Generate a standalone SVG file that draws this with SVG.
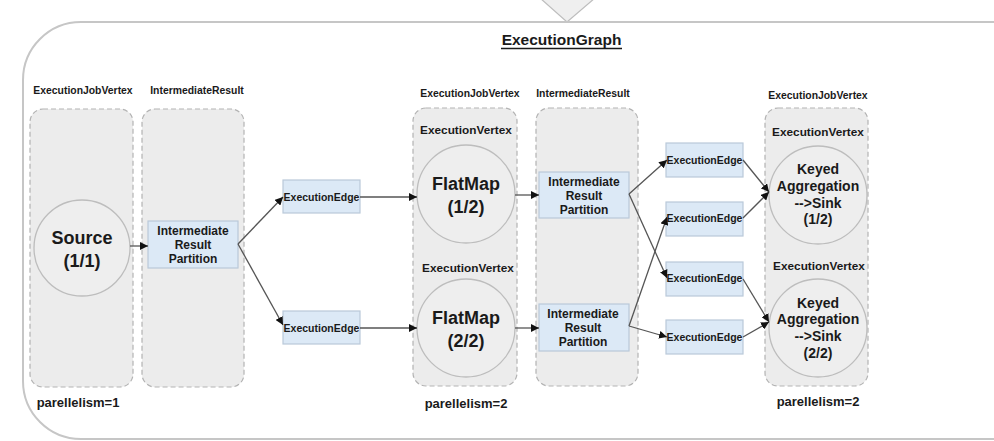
<svg xmlns="http://www.w3.org/2000/svg" width="994" height="441" viewBox="0 0 994 441">
<defs>
<marker id="ah" viewBox="0 0 10 10" refX="10" refY="5" markerWidth="8" markerHeight="8" markerUnits="userSpaceOnUse" orient="auto">
<path d="M0,0 L10,5 L0,10 Z" fill="#111"/>
</marker>
<style>
text{font-family:"Liberation Sans",Arial,sans-serif;font-weight:bold;fill:#1a1a1a;text-anchor:middle}
.col{fill:#ececec;stroke:#b3b3b3;stroke-width:1.2;stroke-dasharray:5 3}
.circ{fill:#eeeeee;stroke:#bdbdbd;stroke-width:1.3}
.box{fill:#dce9f6;stroke:#b9c9d9;stroke-width:1.2}
.lbl{font-size:10.4px}
.ev{font-size:11.8px}
.edge{font-size:10.5px}
.irp{font-size:12px}
.big{font-size:18px}
.keyed{font-size:14px}
.par{font-size:13px}
.conn path,.conn line{stroke:#555;stroke-width:1.3;fill:none;marker-end:url(#ah)}
</style>
</defs>
<rect width="994" height="441" fill="#ffffff"/>
<polygon points="540,-2 595,-2 567,22" fill="#efefef" stroke="#bdbdbd" stroke-width="1.2"/>
<path d="M1000,22 H81 A58,58 0 0 0 23,80 V381 A58,58 0 0 0 81,439 H1000" fill="none" stroke="#c6c6c6" stroke-width="2"/>
<g id="title">
<text x="561.5" y="45" style="font-size:15.5px">ExecutionGraph</text>
<line x1="501" y1="48.5" x2="622" y2="48.5" stroke="#1a1a1a" stroke-width="1.3"/>
</g>
<g id="col-source">
<text class="lbl" x="83" y="93.5">ExecutionJobVertex</text>
<rect class="col" x="30" y="109" width="103" height="278" rx="13"/>
<text class="par" x="78" y="407">parellelism=1</text>
</g>
<g id="col-ir1">
<text class="lbl" x="197" y="93.5">IntermediateResult</text>
<rect class="col" x="142" y="109" width="102" height="278" rx="13"/>
</g>
<g id="col-flatmap">
<text class="lbl" x="470" y="96.5">ExecutionJobVertex</text>
<rect class="col" x="413" y="108" width="104" height="278" rx="13"/>
<text class="par" x="466" y="408">parellelism=2</text>
</g>
<g id="col-ir2">
<text class="lbl" x="583" y="96.5">IntermediateResult</text>
<rect class="col" x="536" y="108" width="102" height="278" rx="13"/>
</g>
<g id="col-sink">
<text class="lbl" x="818" y="98.5">ExecutionJobVertex</text>
<rect class="col" x="765" y="108" width="103" height="278" rx="13"/>
<text class="par" x="818" y="406">parellelism=2</text>
</g>
<g id="source">
<circle class="circ" cx="82" cy="248" r="48"/>
<text class="big" x="82" y="244">Source</text>
<text class="big" x="82" y="267">(1/1)</text>
</g>
<g id="irp-source">
<rect class="box" x="148" y="221" width="90" height="47"/>
<text class="irp" x="193" y="235">Intermediate</text>
<text class="irp" x="193" y="249">Result</text>
<text class="irp" x="193" y="263">Partition</text>
</g>
<g id="edge-a1">
<rect class="box" x="283" y="180" width="77" height="33"/>
<text class="edge" x="321.5" y="200.5">ExecutionEdge</text>
</g>
<g id="edge-a2">
<rect class="box" x="283" y="311" width="77" height="33"/>
<text class="edge" x="321.5" y="331.5">ExecutionEdge</text>
</g>
<g id="flatmap1">
<text class="ev" x="466" y="134">ExecutionVertex</text>
<circle class="circ" cx="466" cy="194" r="49"/>
<text class="big" x="466" y="190">FlatMap</text>
<text class="big" x="466" y="213">(1/2)</text>
</g>
<g id="flatmap2">
<text class="ev" x="468" y="272">ExecutionVertex</text>
<circle class="circ" cx="466" cy="328" r="49"/>
<text class="big" x="466" y="324">FlatMap</text>
<text class="big" x="466" y="347">(2/2)</text>
</g>
<g id="irp1">
<rect class="box" x="539" y="172" width="90" height="46"/>
<text class="irp" x="584" y="186">Intermediate</text>
<text class="irp" x="584" y="200">Result</text>
<text class="irp" x="584" y="214">Partition</text>
</g>
<g id="irp2">
<rect class="box" x="539" y="304" width="90" height="47"/>
<text class="irp" x="583" y="318">Intermediate</text>
<text class="irp" x="583" y="332">Result</text>
<text class="irp" x="583" y="346">Partition</text>
</g>
<g id="edge-b1">
<rect class="box" x="666" y="143" width="77" height="34"/>
<text class="edge" x="704.5" y="164">ExecutionEdge</text>
</g>
<g id="edge-b2">
<rect class="box" x="666" y="202" width="77" height="34"/>
<text class="edge" x="704.5" y="222">ExecutionEdge</text>
</g>
<g id="edge-b3">
<rect class="box" x="666" y="262" width="77" height="34"/>
<text class="edge" x="704.5" y="282">ExecutionEdge</text>
</g>
<g id="edge-b4">
<rect class="box" x="666" y="320" width="77" height="34"/>
<text class="edge" x="704.5" y="341">ExecutionEdge</text>
</g>
<g id="sink1">
<text class="ev" x="818" y="135.5">ExecutionVertex</text>
<circle class="circ" cx="818" cy="195" r="49"/>
<text class="keyed" x="818" y="174">Keyed</text>
<text class="keyed" x="818" y="191">Aggregation</text>
<text class="keyed" x="818" y="208">--&gt;Sink</text>
<text class="keyed" x="818" y="224">(1/2)</text>
</g>
<g id="sink2">
<text class="ev" x="819" y="269.5">ExecutionVertex</text>
<circle class="circ" cx="818" cy="328" r="49"/>
<text class="keyed" x="818" y="308">Keyed</text>
<text class="keyed" x="818" y="324">Aggregation</text>
<text class="keyed" x="818" y="341">--&gt;Sink</text>
<text class="keyed" x="818" y="358">(2/2)</text>
</g>
<g id="connectors" class="conn">
<line x1="130" y1="246" x2="148" y2="246"/>
<line x1="238" y1="244" x2="283" y2="197"/>
<line x1="238" y1="244" x2="283" y2="325"/>
<line x1="360" y1="197" x2="417" y2="197"/>
<line x1="360" y1="328" x2="417" y2="328"/>
<line x1="515" y1="195" x2="539" y2="195"/>
<line x1="515" y1="328" x2="539" y2="328"/>
<line x1="629" y1="194" x2="667" y2="160"/>
<line x1="629" y1="194" x2="667" y2="278"/>
<line x1="629" y1="326" x2="667" y2="217"/>
<line x1="629" y1="326" x2="667" y2="337"/>
<line x1="743" y1="160" x2="769" y2="192"/>
<line x1="743" y1="218" x2="769" y2="192"/>
<line x1="743" y1="279" x2="769" y2="322"/>
<line x1="743" y1="337" x2="769" y2="322"/>
</g>
</svg>
